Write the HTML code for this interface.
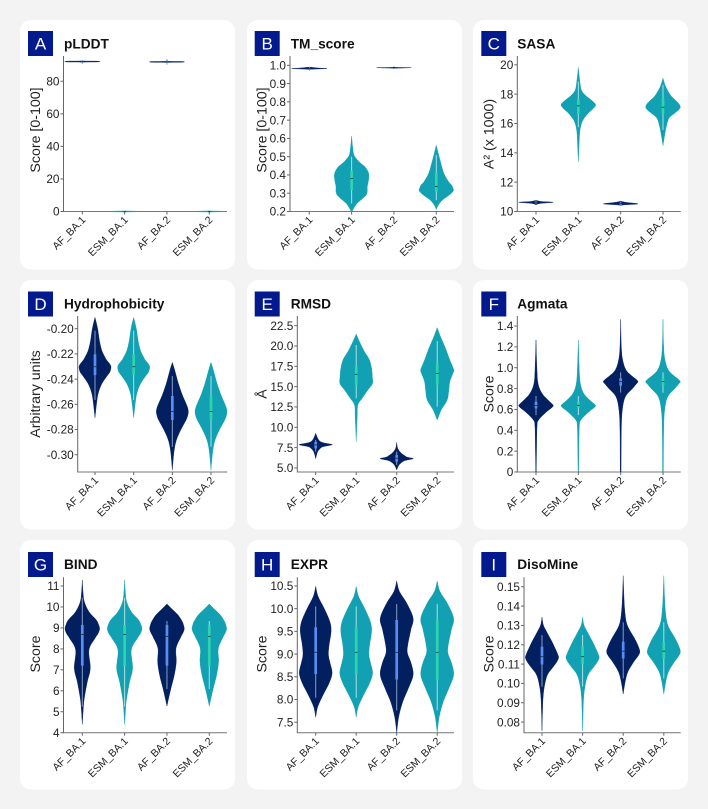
<!DOCTYPE html>
<html lang="en">
<head>
<meta charset="utf-8">
<title>Violin score panels</title>
<style>
html,body{margin:0;padding:0;background:#f3f3f3;}
body{width:708px;height:809px;overflow:hidden;}
svg{display:block;font-family:"Liberation Sans",sans-serif;}
</style>
</head>
<body>
<svg id="figure" width="708" height="809" viewBox="0 0 708 809" xmlns="http://www.w3.org/2000/svg"></svg>
<script>
const categories=['AF_BA.1','ESM_BA.1','AF_BA.2','ESM_BA.2'];

const ticksA=[0,20,40,60,80];
const tickLabelsA=['0','20','40','60','80'];
const domainA=[0,95.5];
const levelsA0=[90.7,91.7,91.85,92.3,92.45,93];const densityA0=[0,3,50,52,3,0];const statsA0=[90.9,91.6,92.1,92.5,93];
const levelsA1=[-0.35,-0.1,0.1,0.35];const densityA1=[0,50,52,0];const statsA1=[0,0,0.1,0.2,0.8];
const levelsA2=[90.3,91.5,91.65,92.1,92.25,93.4];const densityA2=[0,3,50,52,4,0];const statsA2=[90.6,91.4,91.9,92.4,93.1];
const levelsA3=[-0.35,-0.1,0.1,0.35];const densityA3=[0,50,52,0];const statsA3=[0,0,0.1,0.2,0.8];

const ticksB=[0.2,0.3,0.4,0.5,0.6,0.7,0.8,0.9,1.0];
const tickLabelsB=['0.2','0.3','0.4','0.5','0.6','0.7','0.8','0.9','1.0'];
const domainB=[0.2,1.051];
const levelsB0=[0.972,0.978,0.982,0.985,0.99];const densityB0=[0,3,52,28,0];const statsB0=[0.975,0.981,0.983,0.985,0.99];
const levelsB1=[0.613,0.554,0.509,0.481,0.463,0.445,0.423,0.399,0.363,0.336,0.308,0.289,0.271,0.244,0.226,0.197];const densityB1=[0,3,7,18,28,40,48,52,50,47,47,43,33,16,9,0];const statsB1=[0.244,0.317,0.381,0.423,0.5];
const levelsB2=[0.98,0.984,0.987,0.989,0.992];const densityB2=[0,3,52,5,0];const statsB2=[0.981,0.985,0.987,0.988,0.99];
const levelsB3=[0.563,0.518,0.463,0.408,0.363,0.345,0.328,0.317,0.303,0.289,0.262,0.235,0.211];const densityB3=[0,6,14,23,37,46,50,52,47,38,18,6,0];const statsB3=[0.262,0.308,0.337,0.412,0.509];

const ticksC=[10,12,14,16,18,20];
const tickLabelsC=['10','12','14','16','18','20'];
const domainC=[10,20.6];
const levelsC0=[10.77,10.68,10.63,10.55,10.46];const densityC0=[0,16,52,13,0];const statsC0=[10.53,10.58,10.63,10.68,10.75];
const levelsC1=[19.82,18.98,18.29,17.95,17.7,17.5,17.27,17.05,16.8,16.58,16.2,15.79,15.33,14.42,13.39];const densityC1=[0,4,9,20,33,44,52,46,34,25,13,7,4,2,0];const statsC1=[15.74,16.65,17.2,17.65,18.86];
const levelsC2=[10.71,10.62,10.52,10.45,10.4];const densityC2=[0,17,52,10,0];const statsC2=[10.42,10.47,10.54,10.6,10.67];
const levelsC3=[19.09,18.52,17.95,17.7,17.49,17.3,17.11,16.9,16.7,16.36,15.79,15.33,14.49];const densityC3=[0,8,22,32,42,49,52,46,35,18,10,6,0];const statsC3=[15.56,16.7,17.11,17.72,18.63];

const ticksD=[-0.30,-0.28,-0.26,-0.24,-0.22,-0.20];
const tickLabelsD=['-0.30','-0.28','-0.26','-0.24','-0.22','-0.20'];
const domainD=[-0.3137,-0.1899];
const levelsD0=[-0.191,-0.2,-0.209,-0.217,-0.2216,-0.2249,-0.2275,-0.2302,-0.2341,-0.2368,-0.2434,-0.25,-0.2566,-0.2706];const densityD0=[0,8,13,20,28,35,43,48,45,38,21,11,6,0];const statsD0=[-0.2566,-0.2368,-0.2302,-0.2204,-0.2016];
const levelsD1=[-0.191,-0.2,-0.209,-0.217,-0.2216,-0.2249,-0.2275,-0.2302,-0.2341,-0.2368,-0.2434,-0.25,-0.2566,-0.2706];const densityD1=[0,8,13,20,28,35,43,48,45,38,21,11,6,0];const statsD1=[-0.2566,-0.2368,-0.2302,-0.2204,-0.2016];
const levelsD2=[-0.2267,-0.2328,-0.2434,-0.2526,-0.2593,-0.2628,-0.2659,-0.269,-0.2725,-0.2804,-0.2884,-0.2976,-0.3122];const densityD2=[0,7,18,30,41,46,48,46,41,25,12,5,0];const statsD2=[-0.2937,-0.2725,-0.2656,-0.2534,-0.2376];
const levelsD3=[-0.2267,-0.2328,-0.2434,-0.2526,-0.2593,-0.2628,-0.2659,-0.269,-0.2725,-0.2804,-0.2884,-0.2976,-0.3122];const densityD3=[0,7,18,30,41,46,48,46,41,25,12,5,0];const statsD3=[-0.2937,-0.2725,-0.2656,-0.2534,-0.2376];

const ticksE=[5,7.5,10,12.5,15,17.5,20,22.5];
const tickLabelsE=['5.0','7.5','10.0','12.5','15.0','17.5','20.0','22.5'];
const domainE=[4.5,23.69];
const levelsE0=[9.26,8.65,8.24,8.03,7.87,7.7,7.54,7.0,6.15];const densityE0=[0,6,14,30,50,32,18,6,0];const statsE0=[7.0,7.4,7.83,8.2,8.44];
const levelsE1=[21.48,20.53,19.3,18.28,17.05,16.0,15.61,15.2,14.59,13.57,12.75,11.31,8.24];const densityE1=[0,10,25,40,47,49,50,47,35,18,5,3,0];const statsE1=[13.57,15.2,16.52,17.46,20.12];
const levelsE2=[8.16,7.42,6.89,6.48,6.32,6.15,5.98,5.82,5.37,4.75];const densityE2=[0,3,12,25,32,50,32,20,7,0];const statsE2=[5.37,5.78,6.2,6.6,7.0];
const levelsE3=[22.25,21.15,19.71,18.28,17.4,16.97,16.5,15.61,14.59,13.36,12.13,11.1,10.9];const densityE3=[0,10,25,38,47,50,46,38,35,30,12,2,0];const statsE3=[12.54,15.2,16.64,17.87,20.61];

const ticksF=[0,0.2,0.4,0.6,0.8,1.0,1.2,1.4];
const tickLabelsF=['0','0.2','0.4','0.6','0.8','1.0','1.2','1.4'];
const domainF=[0,1.496];
const levelsF0=[1.266,1.01,0.85,0.754,0.69,0.66,0.636,0.61,0.578,0.5,0.435,0.18,0];const densityF0=[0,2.5,6,18,36,46,52,45,32,8,3,1.5,0.8];const statsF0=[0.546,0.61,0.636,0.674,0.729];
const levelsF1=[1.266,1.01,0.85,0.754,0.69,0.66,0.636,0.61,0.578,0.5,0.435,0.18,0];const densityF1=[0,2.5,6,16,34,45,52,45,32,8,3,1.5,0.8];const statsF1=[0.546,0.615,0.64,0.674,0.729];
const levelsF2=[1.464,1.2,1.074,0.978,0.92,0.89,0.866,0.84,0.802,0.722,0.594,0.403,0];const densityF2=[0,2,6,16,34,46,52,46,36,14,5,2,1.2];const statsF2=[0.761,0.828,0.866,0.898,0.956];
const levelsF3=[1.464,1.2,1.074,0.978,0.92,0.89,0.866,0.84,0.802,0.722,0.594,0.403,0];const densityF3=[0,2,6,16,34,46,52,46,36,14,5,2,1.2];const statsF3=[0.761,0.828,0.866,0.898,0.956];

const ticksG=[4,5,6,7,8,9,10,11];
const tickLabelsG=['4','5','6','7','8','9','10','11'];
const domainG=[4,11.415];
const levelsG0=[11.29,10.73,10.25,9.77,9.38,9.15,8.95,8.72,8.5,7.95,7.07,6.43,5.64,5.16,4.4];const densityG0=[0,2,6,20,42,49,52,47,38,20,24,15,6,3,0];const statsG0=[5.24,7.2,8.69,9.14,10.44];
const levelsG1=[11.29,10.73,10.25,9.77,9.38,9.15,8.95,8.72,8.5,7.95,7.07,6.43,5.64,5.16,4.4];const densityG1=[0,2,6,20,42,49,52,47,38,20,24,15,6,3,0];const statsG1=[5.24,7.2,8.69,9.14,10.44];
const levelsG2=[10.14,9.9,9.62,9.3,9.12,8.95,8.76,8.58,8.02,7.39,6.75,6.12,5.64,5.27];const densityG2=[0,15,33,46,50,52,48,42,27,28,22,12,5,0];const statsG2=[6.08,7.2,8.6,9.14,9.33];
const levelsG3=[10.14,9.9,9.62,9.3,9.12,8.95,8.76,8.58,8.02,7.39,6.75,6.12,5.64,5.27];const densityG3=[0,15,33,46,50,52,48,42,27,28,22,12,5,0];const statsG3=[6.08,7.2,8.6,9.14,9.33];

const ticksH=[7.5,8,8.5,9,9.5,10,10.5];
const tickLabelsH=['7.5','8.0','8.5','9.0','9.5','10.0','10.5'];
const domainH=[7.27,10.69];
const levelsH0=[10.49,10.27,10.01,9.72,9.5,9.2,8.98,8.8,8.58,8.36,8.1,7.84,7.61];const densityH0=[0,7,25,42,46,40,38,43,49,40,22,6,0];const statsH0=[8.04,8.56,9.04,9.59,10.05];
const levelsH1=[10.49,10.27,10.01,9.72,9.5,9.2,8.98,8.8,8.58,8.36,8.1,7.84,7.61];const densityH1=[0,7,25,42,46,40,38,43,49,40,22,6,0];const statsH1=[8.04,8.56,9.04,9.59,10.05];
const levelsH2=[10.61,10.38,10.12,9.79,9.53,9.2,9.02,8.8,8.54,8.25,7.95,7.62,7.27];const densityH2=[0,8,30,49,42,33,32,43,49,35,18,6,0];const statsH2=[7.76,8.44,9.04,9.75,10.1];
const levelsH3=[10.61,10.38,10.12,9.79,9.53,9.2,9.02,8.8,8.54,8.25,7.95,7.62,7.27];const densityH3=[0,8,30,49,42,33,32,43,49,35,18,6,0];const statsH3=[7.76,8.44,9.04,9.75,10.1];

const ticksI=[0.08,0.09,0.10,0.11,0.12,0.13,0.14,0.15];
const tickLabelsI=['0.08','0.09','0.10','0.11','0.12','0.13','0.14','0.15'];
const domainI=[0.0745,0.1549];
const levelsI0=[0.1343,0.1302,0.1267,0.1216,0.1172,0.1152,0.1133,0.111,0.1086,0.1043,0.0983,0.0922,0.0853,0.0755];const densityI0=[0,4,14,30,42,47,50,44,34,16,7,3,1.5,0];const statsI0=[0.0983,0.1098,0.1138,0.119,0.125];
const levelsI1=[0.1343,0.1302,0.1267,0.1216,0.1172,0.1152,0.1133,0.111,0.1086,0.1043,0.0983,0.0922,0.0853,0.0755];const densityI1=[0,4,14,30,42,47,50,44,34,16,7,3,1.5,0];const statsI1=[0.0983,0.1098,0.1138,0.119,0.125];
const levelsI2=[0.1557,0.1457,0.1371,0.1302,0.1233,0.1198,0.1164,0.114,0.1112,0.106,0.1009,0.0945];const densityI2=[0,2,5,12,34,44,50,44,32,14,6,0];const statsI2=[0.1026,0.1129,0.1167,0.1216,0.1316];
const levelsI3=[0.1557,0.1457,0.1371,0.1302,0.1233,0.1198,0.1164,0.114,0.1112,0.106,0.1009,0.0945];const densityI3=[0,2,5,12,34,44,50,44,32,14,6,0];const statsI3=[0.1026,0.1129,0.1167,0.1216,0.1316];

const NS='http://www.w3.org/2000/svg';
const svg=document.getElementById('figure');
function make(tag,attrs,parent,txt){
  const e=document.createElementNS(NS,tag);
  for(const k in attrs)e.setAttribute(k,attrs[k]);
  if(txt!==undefined)e.textContent=txt;
  parent.appendChild(e);
  return e;
}
const palette=[
 {fill:'#02205f',box:'#5a8df2',whisk:'rgba(190,205,232,.72)'},
 {fill:'#12a0b3',box:'#2fd3b0',whisk:'rgba(215,242,242,.78)'}
];
const columns=[
 {card:20,badge:28,title:64},
 {card:247,badge:254.7,title:290.7},
 {card:473,badge:481.3,title:517.3}
];
const rows=[
 {card:20,badge:31,title:48.7,top:56,bottom:211.5,ytitle:130},
 {card:280,badge:291.5,title:308.5,top:316,bottom:472,ytitle:394},
 {card:540,badge:552,title:569,top:577.3,bottom:732.7,ytitle:654}
];
const panels=[
 {id:'A',name:'pLDDT',ylabel:'Score [0-100]',col:0,row:0,spine:63.5,right:227,x0:82.3,step:42.33,half:16,ytx:35,
  domain:domainA,ticks:ticksA,labels:tickLabelsA,lv:[levelsA0,levelsA1,levelsA2,levelsA3],de:[densityA0,densityA1,densityA2,densityA3],st:[statsA0,statsA1,statsA2,statsA3]},
 {id:'B',name:'TM_score',ylabel:'Score [0-100]',col:1,row:0,spine:290,right:454,x0:309.3,step:42.33,half:17.3,ytx:261.7,
  domain:domainB,ticks:ticksB,labels:tickLabelsB,lv:[levelsB0,levelsB1,levelsB2,levelsB3],de:[densityB0,densityB1,densityB2,densityB3],st:[statsB0,statsB1,statsB2,statsB3]},
 {id:'C',name:'SASA',ylabel:'A² (x 1000)',col:2,row:0,spine:517.3,right:680.7,x0:536,step:42.33,half:17.3,ytx:488.7,yt:134,
  domain:domainC,ticks:ticksC,labels:tickLabelsC,lv:[levelsC0,levelsC1,levelsC2,levelsC3],de:[densityC0,densityC1,densityC2,densityC3],st:[statsC0,statsC1,statsC2,statsC3]},
 {id:'D',name:'Hydrophobicity',ylabel:'Arbitrary units',col:0,row:1,spine:77.7,right:227.3,x0:95,step:38.67,half:16,ytx:35,
  domain:domainD,ticks:ticksD,labels:tickLabelsD,lv:[levelsD0,levelsD1,levelsD2,levelsD3],de:[densityD0,densityD1,densityD2,densityD3],st:[statsD0,statsD1,statsD2,statsD3]},
 {id:'E',name:'RMSD',ylabel:'Å',col:1,row:1,spine:297.3,right:454,x0:315.7,step:40.5,half:16.6,ytx:261.7,
  domain:domainE,ticks:ticksE,labels:tickLabelsE,lv:[levelsE0,levelsE1,levelsE2,levelsE3],de:[densityE0,densityE1,densityE2,densityE3],st:[statsE0,statsE1,statsE2,statsE3]},
 {id:'F',name:'Agmata',ylabel:'Score',col:2,row:1,spine:517.3,right:680.7,x0:536,step:42.33,half:17.3,ytx:488.7,
  domain:domainF,ticks:ticksF,labels:tickLabelsF,lv:[levelsF0,levelsF1,levelsF2,levelsF3],de:[densityF0,densityF1,densityF2,densityF3],st:[statsF0,statsF1,statsF2,statsF3]},
 {id:'G',name:'BIND',ylabel:'Score',col:0,row:2,spine:63.5,right:227,x0:82.3,step:42.33,half:17.3,ytx:35,
  domain:domainG,ticks:ticksG,labels:tickLabelsG,lv:[levelsG0,levelsG1,levelsG2,levelsG3],de:[densityG0,densityG1,densityG2,densityG3],st:[statsG0,statsG1,statsG2,statsG3]},
 {id:'H',name:'EXPR',ylabel:'Score',col:1,row:2,spine:297.3,right:454,x0:315.7,step:40.5,half:16.4,ytx:261.7,
  domain:domainH,ticks:ticksH,labels:tickLabelsH,lv:[levelsH0,levelsH1,levelsH2,levelsH3],de:[densityH0,densityH1,densityH2,densityH3],st:[statsH0,statsH1,statsH2,statsH3]},
 {id:'I',name:'DisoMine',ylabel:'Score',col:2,row:2,spine:524,right:680.7,x0:542,step:40.6,half:16.6,ytx:488.7,
  domain:domainI,ticks:ticksI,labels:tickLabelsI,lv:[levelsI0,levelsI1,levelsI2,levelsI3],de:[densityI0,densityI1,densityI2,densityI3],st:[statsI0,statsI1,statsI2,statsI3]}
];
function violinPath(ys,hw,cx){
  const n=ys.length;
  const side=(sign,from,to,dir,first)=>{
    let d='';
    const px=i=>cx+sign*hw[Math.max(0,Math.min(n-1,i))];
    const py=i=>ys[Math.max(0,Math.min(n-1,i))];
    if(first)d+='M'+px(from).toFixed(2)+' '+py(from).toFixed(2);
    for(let i=from;i!==to;i+=dir){
      const a=i,b=i+dir;
      let c1x=px(a)+(px(b)-px(a-dir))/6, c2x=px(b)-(px(b+dir)-px(a))/6;
      const c1y=py(a)+(py(b)-py(a-dir))/6, c2y=py(b)-(py(b+dir)-py(a))/6;
      if(sign>0){c1x=Math.max(c1x,cx);c2x=Math.max(c2x,cx);}else{c1x=Math.min(c1x,cx);c2x=Math.min(c2x,cx);}
      d+='C'+c1x.toFixed(2)+' '+c1y.toFixed(2)+' '+c2x.toFixed(2)+' '+c2y.toFixed(2)+' '+px(b).toFixed(2)+' '+py(b).toFixed(2);
    }
    return d;
  };
  return side(1,0,n-1,1,true)+'L'+(cx-hw[n-1]).toFixed(2)+' '+ys[n-1].toFixed(2)+side(-1,n-1,0,-1,false)+'Z';
}
panels.forEach(function(p){
  const c=columns[p.col],r=rows[p.row];
  const key=p.id.toLowerCase();
  const g=make('g',{},svg);
  
  
  const card=make('rect',{x:c.card,y:r.card,width:215,height:249.5,rx:11,fill:'#fff'},g);
  
  
  const badge=make('rect',{x:c.badge,y:r.badge,width:25,height:25,fill:'#031a8e'},g);
  
  
  const letter=make('text',{x:c.badge+12.5,y:r.badge+18.5,'text-anchor':'middle','font-size':17,fill:'#fff'},g,p.id);
  
  
  const title=make('text',{x:c.title,y:r.title,'font-size':13.7,'font-weight':'bold',fill:'#111'},g,p.name);
  
  
  const yScale=v=>r.bottom-(v-p.domain[0])/(p.domain[1]-p.domain[0])*(r.bottom-r.top);
  const xScale=i=>p.x0+i*p.step;
  const sy=make('line',{x1:p.spine,x2:p.spine,y1:r.top,y2:r.bottom+0.5,stroke:'#666','stroke-width':1},g);
  
  
  const sx=make('line',{x1:p.spine,x2:p.right,y1:r.bottom,y2:r.bottom,stroke:'#777','stroke-width':1},g);
  
  
  categories.forEach(function(cat,i){
    const cx=xScale(i),col=palette[i%2];
    const levels=p.lv[i],dens=p.de[i],st=p.st[i];
    const maxD=Math.max.apply(null,dens);
    const ys=levels.map(yScale);
    const hw=dens.map(d=>d/maxD*p.half);
    const vg=make('g',{},g);
    
    
    const body=make('path',{d:violinPath(ys,hw,cx),fill:col.fill,stroke:col.fill,'stroke-width':0.4},vg);
    
    
    const whisker=make('line',{x1:cx,x2:cx,y1:yScale(st[0]),y2:yScale(st[4]),stroke:col.whisk,'stroke-width':1},vg);
    
    
    const box=make('rect',{x:cx-1.35,width:2.7,y:yScale(st[3]),height:Math.max(0.6,yScale(st[1])-yScale(st[3])),fill:col.box},vg);
    
    
    const median=make('line',{x1:cx-1.35,x2:cx+1.35,y1:yScale(st[2]),y2:yScale(st[2]),stroke:'#0a1a24','stroke-width':0.7},vg);
    
    
    const tick=make('line',{x1:cx,x2:cx,y1:r.bottom,y2:r.bottom+3,stroke:'#666','stroke-width':1},g);
    
    
    const lx=cx+4,ly=r.bottom+9;
    const lab=make('text',{x:lx,y:ly,'text-anchor':'end','font-size':10.5,fill:'#222',transform:'rotate(-45 '+lx+' '+ly+')'},g,cat);
    
    
  });
  p.ticks.forEach(function(t,i){
    const y=yScale(t);
    const tk=make('line',{x1:p.spine-3,x2:p.spine,y1:y,y2:y,stroke:'#666','stroke-width':1},g);
    
    
    const tl=make('text',{x:p.spine-4,y:y+4.2,'text-anchor':'end','font-size':11.8,fill:'#222'},g,p.labels[i]);
    
    
  });
  const yc=p.yt||r.ytitle,bx=p.ytx+5;
  const yt=make('text',{x:bx,y:yc,'text-anchor':'middle','font-size':14.2,fill:'#222',transform:'rotate(-90 '+bx+' '+yc+')'},g,p.ylabel);
  
  
});
</script>
</body>
</html>
